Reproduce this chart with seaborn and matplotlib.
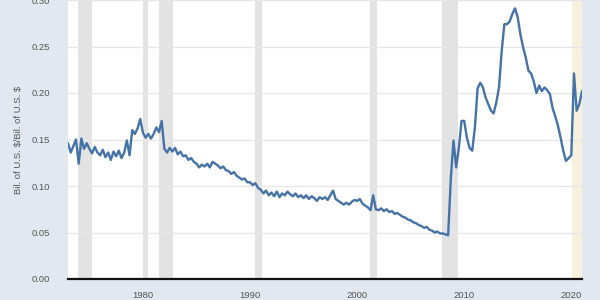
import numpy as np
import pandas as pd
import matplotlib
matplotlib.use("Agg")
import matplotlib.pyplot as plt
import seaborn as sns

# ---- data (quarterly readings, 1973.00 .. 2021.00) ----
start_year = 1973.0
rate = [
    0.146, 0.136, 0.143, 0.150,   # 1973
    0.124, 0.151, 0.140, 0.146,   # 1974
    0.140, 0.135, 0.142, 0.136,   # 1975
    0.133, 0.139, 0.131, 0.136,   # 1976
    0.128, 0.137, 0.132, 0.138,   # 1977
    0.130, 0.136, 0.149, 0.133,   # 1978
    0.160, 0.156, 0.162, 0.172,   # 1979
    0.157, 0.152, 0.156, 0.151,   # 1980
    0.156, 0.163, 0.158, 0.170,   # 1981
    0.140, 0.136, 0.141, 0.137,   # 1982
    0.141, 0.134, 0.137, 0.132,   # 1983
    0.133, 0.128, 0.130, 0.126,   # 1984
    0.124, 0.120, 0.123, 0.121,   # 1985
    0.124, 0.120, 0.126, 0.124,   # 1986
    0.122, 0.119, 0.121, 0.117,   # 1987
    0.116, 0.113, 0.115, 0.111,   # 1988
    0.109, 0.107, 0.108, 0.104,   # 1989
    0.104, 0.101, 0.103, 0.098,   # 1990
    0.096, 0.092, 0.095, 0.090,   # 1991
    0.093, 0.089, 0.094, 0.088,   # 1992
    0.092, 0.090, 0.094, 0.091,   # 1993
    0.089, 0.092, 0.088, 0.090,   # 1994
    0.087, 0.090, 0.086, 0.089,   # 1995
    0.087, 0.084, 0.088, 0.086,   # 1996
    0.088, 0.085, 0.090, 0.095,   # 1997
    0.086, 0.084, 0.082, 0.080,   # 1998
    0.082, 0.080, 0.083, 0.085,   # 1999
    0.084, 0.086, 0.081, 0.079,   # 2000
    0.077, 0.074, 0.090, 0.075,   # 2001
    0.074, 0.076, 0.073, 0.075,   # 2002
    0.072, 0.073, 0.070, 0.071,   # 2003
    0.069, 0.067, 0.066, 0.064,   # 2004
    0.063, 0.061, 0.060, 0.058,   # 2005
    0.057, 0.055, 0.056, 0.053,   # 2006
    0.052, 0.050, 0.051, 0.049,   # 2007
    0.049, 0.048, 0.047, 0.108,   # 2008
    0.149, 0.120, 0.141, 0.170,   # 2009
    0.170, 0.152, 0.141, 0.138,   # 2010
    0.163, 0.205, 0.211, 0.206,   # 2011
    0.195, 0.188, 0.181, 0.178,   # 2012
    0.190, 0.206, 0.245, 0.274,   # 2013
    0.274, 0.277, 0.285, 0.291,   # 2014
    0.281, 0.263, 0.249, 0.238,   # 2015
    0.224, 0.221, 0.212, 0.200,   # 2016
    0.208, 0.202, 0.206, 0.203,   # 2017
    0.199, 0.184, 0.175, 0.165,   # 2018
    0.152, 0.138, 0.127, 0.130,   # 2019
    0.133, 0.221, 0.181, 0.188,   # 2020
    0.202,                        # 2021
]
years = start_year + np.arange(len(rate)) * 0.25

recession_start = [1973.9, 1980.0, 1981.5, 1990.5, 2001.2, 2007.9]
recession_end = [1975.2, 1980.45, 1982.85, 1991.15, 2001.85, 2009.4]
latest_start, latest_end = 2020.1, 2021.0

y_ticks = [0.00, 0.05, 0.10, 0.15, 0.20, 0.25, 0.30]
y_tick_labels = ["0.00", "0.05", "0.10", "0.15", "0.20", "0.25", "0.30"]
x_ticks = [1980, 1990, 2000, 2010, 2020]
y_label = r"Bil. of U.S. \$/Bil. of U.S. \$"

df = pd.DataFrame({"year": years, "rate": rate})

# ---- style ----
sns.set_style("white")
plt.rcParams["font.family"] = ["Liberation Sans", "DejaVu Sans"]

bg = "#e1e8ef"
fig = plt.figure(figsize=(6, 3), dpi=100, facecolor=bg)
ax = fig.add_axes([0.1133, 0.07, 0.8567, 0.93])
ax.set_facecolor("white")

for s, e in zip(recession_start, recession_end):
    ax.axvspan(s, e, color="#e3e3e3", lw=0, zorder=0)
ax.axvspan(latest_start, latest_end, color="#f7f2dd", lw=0, zorder=0)

for yt in y_ticks[1:]:
    ax.axhline(yt, color="#e6e6e6", lw=0.9, zorder=0.5)

sns.lineplot(data=df, x="year", y="rate", ax=ax, color="#4572a7", lw=1.7, zorder=3)

ax.set_xlim(1973.0, 2021.0)
ax.set_ylim(0, 0.30)
ax.set_yticks(y_ticks)
ax.set_yticklabels(y_tick_labels)
ax.set_xticks(x_ticks)
ax.set_xticklabels([str(x) for x in x_ticks])
ax.tick_params(axis="both", length=0, labelsize=6.8, labelcolor="#555555")
ax.tick_params(axis="y", pad=13)
ax.tick_params(axis="x", pad=9)
ax.set_xlabel("")
ax.set_ylabel(y_label, fontsize=6.8, color="#555555", labelpad=6)

for side in ["top", "right", "left"]:
    ax.spines[side].set_visible(False)
ax.spines["bottom"].set_color("#111111")
ax.spines["bottom"].set_linewidth(1.6)
ax.spines["bottom"].set_zorder(4)

fig.savefig("out.png", dpi=100, facecolor=bg)
